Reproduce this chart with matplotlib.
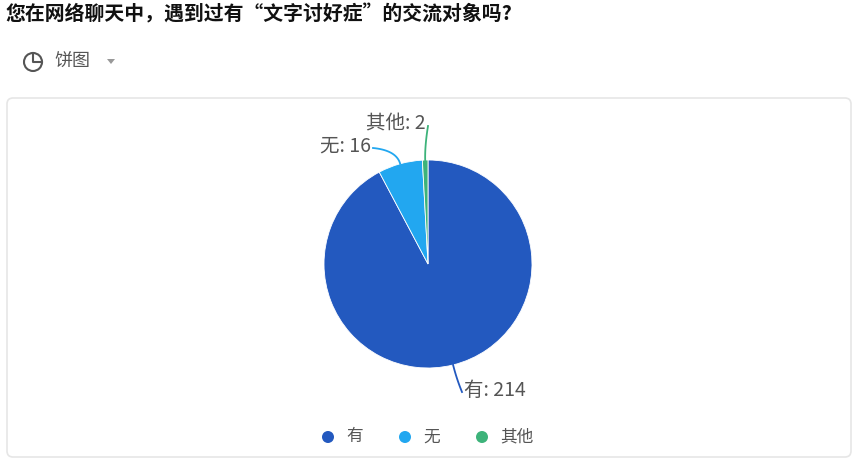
import matplotlib
matplotlib.use("Agg")
import matplotlib.pyplot as plt
import numpy as np
from matplotlib.patches import FancyBboxPatch, Wedge, Circle, Polygon

plt.rcParams["font.family"] = ["Noto Sans CJK SC", "DejaVu Sans"]

# data
categories = ["有", "无", "其他"]
counts = [214, 16, 2]
colors = ["#2359bf", "#22a7f0", "#3db37a"]
title = "您在网络聊天中，遇到过有“文字讨好症”的交流对象吗?"

W, H = 865, 469
fig = plt.figure(figsize=(W / 100, H / 100), dpi=100)
ax = fig.add_axes([0, 0, 1, 1])
ax.set_xlim(0, W)
ax.set_ylim(H, 0)
ax.axis("off")

# card frame
ax.add_patch(FancyBboxPatch((7, 98), 844, 359, boxstyle="round,pad=0,rounding_size=6",
                            fc="white", ec="#e6e6e6", lw=1.2))

ax.text(6, 14, title, fontsize=14.3, color="#111111", va="center", ha="left",
        fontweight="bold")

# chart-type selector
ax.add_patch(Circle((33, 62), 9, fc="none", ec="#555555", lw=1.5))
ax.plot([33, 33, 42], [53, 62, 62], color="#555555", lw=1.5)
ax.text(54, 62, "饼图", fontsize=13, color="#555555", va="center", ha="left")
ax.add_patch(Polygon([[107, 59], [115, 59], [111, 64]], closed=True, fc="#999999", ec="none"))

# pie (pixel coords, y downward) - start at top, go clockwise
cx, cy, r = 428, 264, 104
total = sum(counts)
start = 90.0
mids = []
for val, col in zip(counts, colors):
    sweep = val / total * 360
    # with inverted y axis, angles run clockwise on screen
    theta1 = -start
    theta2 = -start + sweep
    ax.add_patch(Wedge((cx, cy), r, theta1, theta2, fc=col, ec="white", lw=0.6))
    mids.append(-start + sweep / 2)
    start -= sweep


def edge(angle, rad):
    a = np.deg2rad(angle)
    return cx + rad * np.cos(a), cy + rad * np.sin(a)


label_pos = [(462, 390, "left"), (373, 146, "right"), (428, 124, "right")]
for (lx, ly, ha), ang, cat, val, col in zip(label_pos, mids, categories, counts, colors):
    x0, y0 = edge(ang, r)
    x1, y1 = edge(ang, r + 14)
    t = np.linspace(0, 1, 20)
    xs = (1 - t) ** 2 * x0 + 2 * (1 - t) * t * x1 + t ** 2 * lx
    ys = (1 - t) ** 2 * y0 + 2 * (1 - t) * t * y1 + t ** 2 * (ly + 2)
    ax.plot(xs, ys, color=col, lw=1.3)
    ax.text(lx + (2 if ha == "left" else -2), ly, f"{cat}: {val}", fontsize=14,
            color="#555555", ha=ha, va="center")

# legend
leg_x = [328, 405, 482]
for x, cat, col in zip(leg_x, categories, colors):
    ax.add_patch(Circle((x, 437), 6, fc=col, ec="none"))
    ax.text(x + 18, 437, cat, fontsize=12, color="#555555", va="center", ha="left")

fig.savefig("out.png", dpi=100)
